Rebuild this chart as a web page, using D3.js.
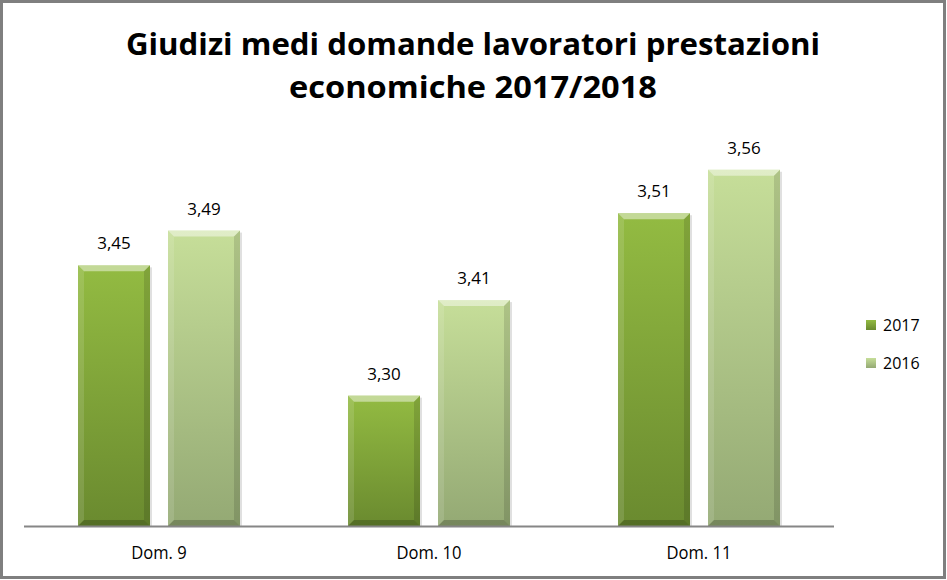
<!DOCTYPE html>
<html><head><meta charset="utf-8">
<script src="https://cdn.jsdelivr.net/npm/d3@7/dist/d3.min.js"></script>
<style>body{margin:0;background:#fff}svg{display:block}</style>
</head><body>
<script>
const categories = ["Dom. 9", "Dom. 10", "Dom. 11"];
const seriesNames = ["2017", "2016"];
const values2017 = [3.45, 3.30, 3.51];
const values2016 = [3.49, 3.41, 3.56];
const titleLines = ["Giudizi medi domande lavoratori prestazioni", "economiche 2017/2018"];

const W = 947, H = 580;
const svg = d3.select("body").append("svg").attr("width", W).attr("height", H);
const defs = svg.append("defs");

const palettes = {
  "2017": {top: "#93bb42", bottom: "#6a8a2f"},
  "2016": {top: "#c6de99", bottom: "#94a974"}
};
seriesNames.forEach(s => {
  const g = defs.append("linearGradient").attr("id", "g" + s).attr("x1", 0).attr("y1", 0).attr("x2", 0).attr("y2", 1);
  g.append("stop").attr("offset", "0%").attr("stop-color", palettes[s].top);
  g.append("stop").attr("offset", "100%").attr("stop-color", palettes[s].bottom);
  const l = defs.append("linearGradient").attr("id", "lg" + s).attr("x1", 0).attr("y1", 0).attr("x2", 0).attr("y2", 1);
  l.append("stop").attr("offset", "0%").attr("stop-color", palettes[s].top);
  l.append("stop").attr("offset", "100%").attr("stop-color", palettes[s].bottom);
});

// frame
svg.append("rect").attr("x", 1.5).attr("y", 1.5).attr("width", W - 4).attr("height", H - 4)
  .attr("fill", "#fff").attr("stroke", "#7f7f7f").attr("stroke-width", 3);

// title
svg.append("g").selectAll("text").data(titleLines).join("text")
  .attr("x", 473).attr("y", (d, i) => 55 + i * 43)
  .attr("text-anchor", "middle")
  .attr("font-family", "'Open Sans', sans-serif").attr("font-weight", "bold")
  .attr("font-size", 30).attr("fill", "#000")
  .attr("textLength", (d, i) => i === 0 ? 694 : 368).attr("lengthAdjust", "spacingAndGlyphs")
  .text(d => d);

const x0 = d3.scaleBand().domain(categories).range([24, 834]).paddingInner(0).paddingOuter(0);
const x1 = d3.scaleBand().domain(seriesNames).range([54, 216]).paddingInner(0.2);
const y = d3.scaleLinear().domain([3.15, 3.6]).range([526, 135]);

const data = categories.map((c, i) => ({cat: c, vals: [
  {s: "2017", v: values2017[i]}, {s: "2016", v: values2016[i]}]}));

const plot = svg.append("g");
const groups = plot.selectAll("g.cat").data(data).join("g").attr("class", "cat")
  .attr("transform", d => `translate(${x0(d.cat)},0)`);

const bars = groups.selectAll("g.bar").data(d => d.vals).join("g").attr("class", "bar");
const bev = 6;
bars.each(function(d) {
  const g = d3.select(this);
  const bx = x1(d.s), bw = x1.bandwidth(), by = y(d.v), bh = y.range()[0] - by;
  g.append("rect").attr("x", bx + 2).attr("y", by + 2).attr("width", bw).attr("height", bh - 2)
    .attr("fill", "#000").attr("opacity", 0.12);
  g.append("rect").attr("x", bx).attr("y", by).attr("width", bw).attr("height", bh)
    .attr("fill", `url(#g${d.s})`);
  const pts = (arr) => arr.map(p => p.join(",")).join(" ");
  g.append("polygon").attr("points", pts([[bx, by], [bx + bw, by], [bx + bw - bev, by + bev], [bx + bev, by + bev]]))
    .attr("fill", "#fff").attr("opacity", 0.45);
  g.append("polygon").attr("points", pts([[bx, by], [bx + bev, by + bev], [bx + bev, by + bh - bev], [bx, by + bh]]))
    .attr("fill", "#fff").attr("opacity", 0.12);
  g.append("polygon").attr("points", pts([[bx + bw, by], [bx + bw, by + bh], [bx + bw - bev, by + bh - bev], [bx + bw - bev, by + bev]]))
    .attr("fill", "#000").attr("opacity", 0.12);
  g.append("polygon").attr("points", pts([[bx, by + bh], [bx + bw, by + bh], [bx + bw - bev, by + bh - bev], [bx + bev, by + bh - bev]]))
    .attr("fill", "#000").attr("opacity", 0.2);
  g.append("text").attr("x", bx + bw / 2).attr("y", by - 16)
    .attr("text-anchor", "middle").attr("font-family", "'Open Sans', sans-serif")
    .attr("font-size", 17).attr("fill", "#000")
    .text(d3.format(".2f")(d.v).replace(".", ","));
});

// axis line
svg.append("line").attr("x1", x0.range()[0]).attr("x2", x0.range()[1])
  .attr("y1", y.range()[0] + 0.5).attr("y2", y.range()[0] + 0.5)
  .attr("stroke", "#868686").attr("stroke-width", 2);

// category labels
svg.append("g").selectAll("text").data(categories).join("text")
  .attr("x", d => x0(d) + x0.bandwidth() / 2).attr("y", 559)
  .attr("text-anchor", "middle").attr("font-family", "'Open Sans', sans-serif")
  .attr("font-size", 18).attr("fill", "#000").text(d => d)
  .each(function() {
    const len = this.getComputedTextLength();
    d3.select(this).attr("textLength", len * 0.92).attr("lengthAdjust", "spacingAndGlyphs");
  });

// legend
const leg = svg.append("g").selectAll("g").data(seriesNames).join("g")
  .attr("transform", (d, i) => `translate(866,${320 + i * 38})`);
leg.append("rect").attr("width", 10).attr("height", 10).attr("fill", d => `url(#lg${d})`);
leg.append("text").attr("x", 17).attr("y", 11).attr("font-family", "'Open Sans', sans-serif")
  .attr("font-size", 16).attr("fill", "#000").text(d => d);
</script>
</body></html>
